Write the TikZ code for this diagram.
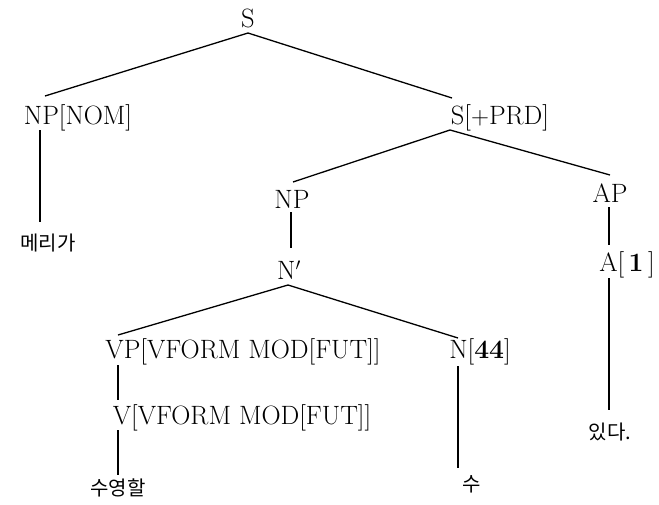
\documentclass[tikz,border=0pt]{standalone}
\usepackage{fontspec}
\newfontfamily\kr{Noto Sans CJK KR}
\begin{document}
\begin{tikzpicture}
        [x=1pt,y=-1pt,
        catdecorate/.style={inner sep=0pt,font=\fontsize{26.5}{30}\selectfont},%
        worddecorate/.style={inner sep=0pt,font=\kr\fontsize{20}{24}\selectfont},%
        branchdecorate/.style={-,line width=1.3pt}]
        \useasboundingbox (0,0) rectangle (659,504);
        %% categories
        \foreach \nodename/\x/\y/\cat in { S/248/18/S,
          npnom/78/118/NP[NOM], sprd/500/118/S[$+$PRD], np/292/199/NP,
          ap/610/193/AP, nbar/289/270/N$'$, aone/627/265/A[\,\textbf{1}\,],
          vp/243/352/VP[VFORM MOD[FUT]], nffff/480/352/N[\textbf{44}],
          v/242/418/V[VFORM MOD[FUT]]}
        {
          \node (\nodename) at (\x,\y) [catdecorate] {\cat};
        }
        %% words
        \foreach \nodename/\x/\y/\word in { meri/48/243/메리가,
          suyeong/118/488/수영할, su/472/484/수, issda/610/432/있다.}
        {
          \node (\nodename) at (\x,\y) [worddecorate] {\word};
        }
        %% branches
        \foreach \startnode/\sx/\sy/\endnode/\ex/\ey in {S/0/-15/npnom/-33/22,
          S/0/-15/sprd/-48/20, sprd/-50/-12/np/1/17, sprd/-50/-12/ap/0/18,
          npnom/-38/-12/meri/-8/21, np/-1/-13/nbar/2/22,
          nbar/-1/-15/vp/-125/17, nbar/-1/-15/nffff/-22/14,
          vp/-125/-13/v/-124/18, v/-124/-12/suyeong/0/13,
          nffff/-22/-14/su/-14/16, ap/-1/-14/aone/-18/20,
          aone/-18/-13/issda/-1/22}
        {
          \draw[branchdecorate] ([xshift=\sx pt,yshift=\sy pt]\startnode.center)
            -- ([xshift=\ex pt,yshift=\ey pt]\endnode.center);
        }
      \end{tikzpicture}
\end{document}
